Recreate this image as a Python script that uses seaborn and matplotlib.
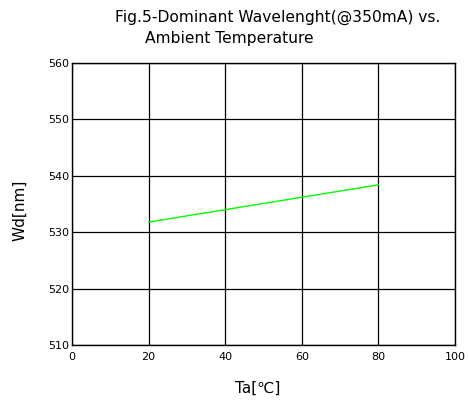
import numpy as np
import matplotlib
matplotlib.use("Agg")
import matplotlib.pyplot as plt
import seaborn as sns
import pandas as pd

# values
ta = [20, 40, 60, 80]
wd = [531.8, 534.0, 536.2, 538.4]
x_ticks = [0, 20, 40, 60, 80, 100]
y_ticks = [510, 520, 530, 540, 550, 560]

sns.set_style("white")
plt.rcParams['font.family'] = ['DejaVu Sans']
plt.rcParams['text.color'] = 'black'

df = pd.DataFrame({'Ta': ta, 'Wd': wd})

fig = plt.figure(figsize=(4.69, 4.03), dpi=100)
ax = fig.add_axes([72/469, 1-345/403, (455-72)/469, (345-63)/403])

sns.lineplot(data=df, x='Ta', y='Wd', ax=ax, color='#00ff00', linewidth=1.0)

ax.set_xlim(0, 100)
ax.set_ylim(510, 560)
ax.set_xticks(x_ticks)
ax.set_yticks(y_ticks)
ax.tick_params(axis='both', length=0, labelsize=8, colors='black')
ax.tick_params(axis='x', pad=5)
ax.tick_params(axis='y', pad=2)
ax.grid(True, color='black', linewidth=0.9)
ax.set_axisbelow(True)
for s in ax.spines.values():
    s.set_color('black')
    s.set_linewidth(1.0)

ax.set_xlabel('')
ax.set_ylabel('')
fig.text(258/469, 1-388/403, 'Ta[℃]', ha='center', va='center', fontsize=11, color='black')
fig.text(20/469, 1-210/403, 'Wd[nm]', ha='center', va='center', rotation=90, fontsize=11, color='black')

fig.text(115/469, 1-17/403, 'Fig.5-Dominant Wavelenght(@350mA) vs.', ha='left', va='center', fontsize=11.2, color='black')
fig.text(145/469, 1-39/403, 'Ambient Temperature', ha='left', va='center', fontsize=11.2, color='black')

fig.savefig('out.png', dpi=100)
